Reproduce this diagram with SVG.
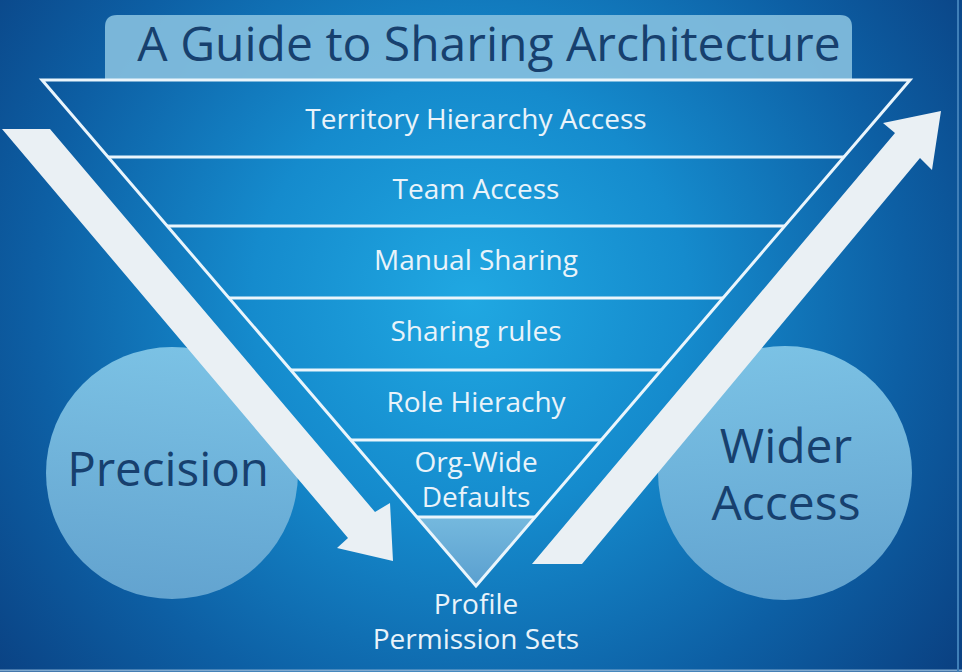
<svg xmlns="http://www.w3.org/2000/svg" width="962" height="672" viewBox="0 0 962 672">
  <defs>
    <radialGradient id="bg" cx="470" cy="300" r="620" gradientUnits="userSpaceOnUse">
      <stop offset="0" stop-color="#20a8e2"/>
      <stop offset="0.35" stop-color="#158bcd"/>
      <stop offset="0.7" stop-color="#0d5fa4"/>
      <stop offset="1" stop-color="#0a3f80"/>
    </radialGradient>
    <linearGradient id="circ" x1="0" y1="0" x2="0" y2="1">
      <stop offset="0" stop-color="#84c8e8"/>
      <stop offset="1" stop-color="#6aa9d3"/>
    </linearGradient>
    <linearGradient id="apex" x1="0" y1="0" x2="0" y2="1">
      <stop offset="0" stop-color="#75b9de"/>
      <stop offset="1" stop-color="#5a9fcf"/>
    </linearGradient>
    <style>
      .lbl { font-family: "Open Sans", "Liberation Sans", sans-serif; fill: #e9f3fa; text-anchor: middle; font-size: 28px; }
      .dark { font-family: "Open Sans", "Liberation Sans", sans-serif; fill: #17406e; text-anchor: middle; }
      .edge { stroke: #eaf5fc; stroke-width: 3; fill: none; }
      .arrow { fill: #eaf0f4; }
    </style>
  </defs>

  <rect x="0" y="0" width="962" height="672" fill="url(#bg)"/>
  <line x1="0" y1="670.5" x2="962" y2="670.5" stroke="#7fa9cf" stroke-width="2"/>
  <line x1="958" y1="0" x2="958" y2="672" stroke="#3f7fb8" stroke-width="2"/>

  <g id="title">
    <path d="M105,80 V27 Q105,15 117,15 H840 Q852,15 852,27 V80 Z" fill="#86c0df" fill-opacity="0.9"/>
    <text class="dark" x="489" y="61" font-size="48">A Guide to Sharing Architecture</text>
  </g>

  <g id="circle-precision">
    <circle cx="172" cy="473" r="126" fill="url(#circ)" fill-opacity="0.92"/>
    <text class="dark" x="168" y="486" font-size="47.5">Precision</text>
  </g>

  <g id="circle-wider-access">
    <circle cx="785" cy="473" r="127" fill="url(#circ)" fill-opacity="0.92"/>
    <text class="dark" x="786" y="463" font-size="48">Wider</text>
    <text class="dark" x="786" y="520" font-size="48">Access</text>
  </g>

  <g id="pyramid">
    <path d="M418,517 L535,517 L476,586 Z" fill="url(#apex)"/>
    <path class="edge" d="M42,80 L910,80 L476,586 Z" stroke-linejoin="miter"/>
    <line class="edge" x1="108" y1="157" x2="844" y2="157"/>
    <line class="edge" x1="167" y1="226" x2="785" y2="226"/>
    <line class="edge" x1="229" y1="298" x2="723" y2="298"/>
    <line class="edge" x1="291" y1="370" x2="661" y2="370"/>
    <line class="edge" x1="351" y1="440" x2="601" y2="440"/>
    <line class="edge" x1="417" y1="517" x2="535" y2="517"/>
  </g>

  <g id="layer-territory"><text class="lbl" x="476" y="129">Territory Hierarchy Access</text></g>
  <g id="layer-team"><text class="lbl" x="476" y="199">Team Access</text></g>
  <g id="layer-manual"><text class="lbl" x="476" y="270">Manual Sharing</text></g>
  <g id="layer-rules"><text class="lbl" x="476" y="341">Sharing rules</text></g>
  <g id="layer-role"><text class="lbl" x="476" y="412">Role Hierachy</text></g>
  <g id="layer-owd">
    <text class="lbl" x="476" y="472">Org-Wide</text>
    <text class="lbl" x="476" y="507">Defaults</text>
  </g>
  <g id="layer-profile">
    <text class="lbl" x="476" y="614">Profile</text>
    <text class="lbl" x="476" y="649">Permission Sets</text>
  </g>

  <g id="connectors">
    <polygon class="arrow" points="2,129 50,129 375,512 390,503 393,561 337,548 348,538"/>
    <polygon class="arrow" points="532,564 582,564 920,158 932,170 941,111 883,123 895,133"/>
  </g>
</svg>
